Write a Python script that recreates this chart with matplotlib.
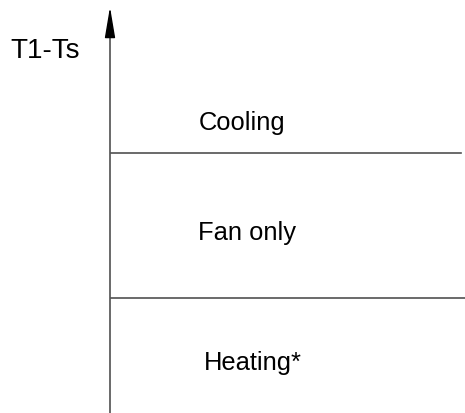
import matplotlib
matplotlib.use("Agg")
import matplotlib.pyplot as plt

plt.rcParams['font.family'] = ['Liberation Sans', 'DejaVu Sans']

# operating zones along T1-Ts (schematic units)
zones = ["Heating*", "Fan only", "Cooling"]
zone_label_y = [0.510, 1.407, 2.166]
zone_label_x = [253, 247, 242]
boundaries = [1.0, 2.0]
boundary_end = [465, 461]
axis_label = "T1-Ts"

line_col = "#505050"

fig = plt.figure(figsize=(4.65, 4.14), dpi=100)
ax = fig.add_axes([0, 0, 1, 1])
ax.set_xlim(0, 465)
ax.set_ylim(0.207, 3.062)
ax.axis("off")

axis_x = 110
# vertical axis with arrow head
ax.plot([axis_x, axis_x], [0.207, 2.85], color=line_col, lw=1.2)
ax.annotate("", xy=(axis_x, 3.007), xytext=(axis_x, 2.80),
            arrowprops=dict(arrowstyle="-|>,head_length=1.9,head_width=0.32",
                            color="black", lw=1.0, shrinkA=0, shrinkB=0))

for b, xe in zip(boundaries, boundary_end):
    ax.plot([axis_x + 1, xe], [b, b], color=line_col, lw=1.2)

for name, x, y in zip(zones, zone_label_x, zone_label_y):
    ax.text(x, y, name, ha="center", va="baseline", fontsize=18.4, color="black")

ax.text(45, 2.662, axis_label, ha="center", va="baseline", fontsize=20, color="black")

fig.savefig("out.png", dpi=100)
